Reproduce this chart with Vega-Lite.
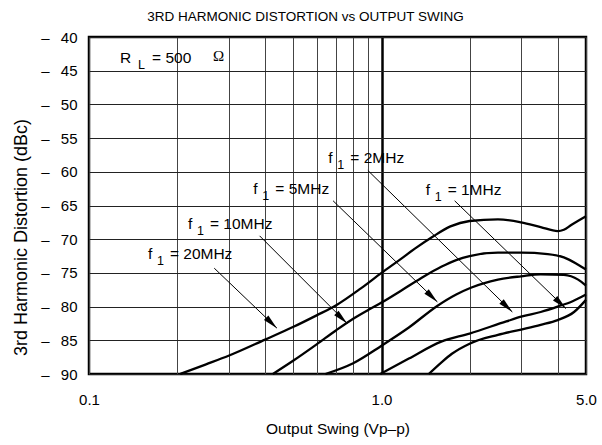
{
  "$schema": "https://vega.github.io/schema/vega-lite/v6.json",
  "width": 497,
  "height": 337,
  "autosize": {"type": "none"},
  "padding": {"left": 89, "top": 37, "right": 16, "bottom": 71},
  "background": "white",
  "config": {
    "font": "Liberation Sans",
    "view": {"stroke": "black", "strokeWidth": 2.5},
    "text": {"font": "Liberation Sans", "color": "black"}
  },
  "title": {
    "text": "3RD HARMONIC DISTORTION vs OUTPUT SWING",
    "fontSize": 13.5,
    "fontWeight": "normal",
    "color": "black",
    "font": "Liberation Sans",
    "anchor": "middle",
    "dx": -32,
    "offset": 7
  },
  "datasets": {
    "curves": [
      {"series": "20MHz", "x": 0.205, "y": -90},
      {"series": "20MHz", "x": 0.25, "y": -88.6},
      {"series": "20MHz", "x": 0.3, "y": -87.3},
      {"series": "20MHz", "x": 0.4, "y": -84.9},
      {"series": "20MHz", "x": 0.5, "y": -83.0},
      {"series": "20MHz", "x": 0.6, "y": -81.3},
      {"series": "20MHz", "x": 0.7, "y": -79.8},
      {"series": "20MHz", "x": 0.85, "y": -77.3},
      {"series": "20MHz", "x": 1.0, "y": -75.0},
      {"series": "20MHz", "x": 1.15, "y": -73.1},
      {"series": "20MHz", "x": 1.3, "y": -71.4},
      {"series": "20MHz", "x": 1.5, "y": -69.6},
      {"series": "20MHz", "x": 1.72, "y": -68.1},
      {"series": "20MHz", "x": 2.0, "y": -67.3},
      {"series": "20MHz", "x": 2.5, "y": -67.05},
      {"series": "20MHz", "x": 3.0, "y": -67.5},
      {"series": "20MHz", "x": 3.5, "y": -68.2},
      {"series": "20MHz", "x": 4.0, "y": -68.8},
      {"series": "20MHz", "x": 4.2, "y": -68.6},
      {"series": "20MHz", "x": 4.45, "y": -67.9},
      {"series": "20MHz", "x": 5.0, "y": -66.6},
      {"series": "10MHz", "x": 0.425, "y": -90},
      {"series": "10MHz", "x": 0.5, "y": -88.0},
      {"series": "10MHz", "x": 0.6, "y": -85.6},
      {"series": "10MHz", "x": 0.7, "y": -83.5},
      {"series": "10MHz", "x": 0.8, "y": -81.8},
      {"series": "10MHz", "x": 0.9, "y": -80.5},
      {"series": "10MHz", "x": 1.0, "y": -79.4},
      {"series": "10MHz", "x": 1.18, "y": -77.5},
      {"series": "10MHz", "x": 1.4, "y": -75.5},
      {"series": "10MHz", "x": 1.6, "y": -74.1},
      {"series": "10MHz", "x": 1.8, "y": -73.1},
      {"series": "10MHz", "x": 2.0, "y": -72.5},
      {"series": "10MHz", "x": 2.5, "y": -72.0},
      {"series": "10MHz", "x": 3.0, "y": -72.0},
      {"series": "10MHz", "x": 3.7, "y": -72.2},
      {"series": "10MHz", "x": 4.2, "y": -72.7},
      {"series": "10MHz", "x": 4.7, "y": -73.8},
      {"series": "10MHz", "x": 5.0, "y": -74.5},
      {"series": "5MHz", "x": 0.643, "y": -90},
      {"series": "5MHz", "x": 0.8, "y": -88.4},
      {"series": "5MHz", "x": 1.0, "y": -85.8},
      {"series": "5MHz", "x": 1.24, "y": -83.1},
      {"series": "5MHz", "x": 1.55, "y": -79.9},
      {"series": "5MHz", "x": 1.8, "y": -78.2},
      {"series": "5MHz", "x": 2.02, "y": -77.2},
      {"series": "5MHz", "x": 2.5, "y": -76.0},
      {"series": "5MHz", "x": 3.0, "y": -75.5},
      {"series": "5MHz", "x": 3.5, "y": -75.2},
      {"series": "5MHz", "x": 4.2, "y": -75.3},
      {"series": "5MHz", "x": 4.7, "y": -76.0},
      {"series": "5MHz", "x": 5.0, "y": -76.9},
      {"series": "2MHz", "x": 0.99, "y": -90},
      {"series": "2MHz", "x": 1.24, "y": -87.7},
      {"series": "2MHz", "x": 1.6, "y": -85.2},
      {"series": "2MHz", "x": 2.0, "y": -84.0},
      {"series": "2MHz", "x": 2.67, "y": -82.2},
      {"series": "2MHz", "x": 3.0, "y": -81.5},
      {"series": "2MHz", "x": 3.5, "y": -80.8},
      {"series": "2MHz", "x": 4.0, "y": -80.0},
      {"series": "2MHz", "x": 4.5, "y": -79.2},
      {"series": "2MHz", "x": 5.0, "y": -78.2},
      {"series": "1MHz", "x": 1.45, "y": -90},
      {"series": "1MHz", "x": 1.6, "y": -88.3},
      {"series": "1MHz", "x": 1.74, "y": -87.0},
      {"series": "1MHz", "x": 2.0, "y": -85.5},
      {"series": "1MHz", "x": 2.5, "y": -84.2},
      {"series": "1MHz", "x": 3.0, "y": -83.4},
      {"series": "1MHz", "x": 3.5, "y": -82.7},
      {"series": "1MHz", "x": 4.0, "y": -82.0},
      {"series": "1MHz", "x": 4.55, "y": -80.8},
      {"series": "1MHz", "x": 5.0, "y": -79.0}
    ],
    "arrows": [
      {"series": "20MHz", "xs": 0.268, "ys": -74.3, "x": 0.439, "y": -83.2},
      {"series": "10MHz", "xs": 0.383, "ys": -69.5, "x": 0.763, "y": -82.5},
      {"series": "5MHz", "xs": 0.683, "ys": -64.3, "x": 1.552, "y": -79.3},
      {"series": "2MHz", "xs": 0.898, "ys": -59.8, "x": 2.8, "y": -80.8},
      {"series": "1MHz", "xs": 1.778, "ys": -64.3, "x": 4.27, "y": -80.3}
    ],
    "labels": [
      {"series": "20MHz", "text": "= 20MHz", "x": 0.159, "y": -73.0},
      {"series": "10MHz", "text": "= 10MHz", "x": 0.218, "y": -68.5},
      {"series": "5MHz", "text": "= 5MHz", "x": 0.3645, "y": -63.3},
      {"series": "2MHz", "text": "= 2MHz", "x": 0.658, "y": -58.65},
      {"series": "1MHz", "text": "= 1MHz", "x": 1.415, "y": -63.4}
    ],
    "rl": [
      {"x": 0.1277, "y": -43.8}
    ]
  },
  "encoding": {
    "x": {
      "field": "x",
      "type": "quantitative",
      "scale": {"type": "log", "domain": [0.1, 5], "nice": false},
      "axis": {
        "values": [0.1, 0.2, 0.3, 0.4, 0.5, 0.6, 0.7, 0.8, 0.9, 1, 2, 3, 4, 5],
        "labelExpr": "datum.value == 0.1 || datum.value == 1 || datum.value == 5 ? format(datum.value, '.1f') : ''",
        "ticks": false,
        "domain": false,
        "grid": true,
        "gridColor": {"condition": {"test": "datum.value == 1", "value": "black"}, "value": "#444444"},
        "gridWidth": {"condition": {"test": "datum.value == 1", "value": 2.5}, "value": 1},
        "labelFontSize": 15,
        "labelFont": "Liberation Sans",
        "labelColor": "black",
        "labelPadding": 18,
        "labelFlush": false,
        "labelOverlap": false,
        "title": "Output Swing (Vp–p)",
        "titleFont": "Liberation Sans",
        "titleFontSize": 15.5,
        "titleFontWeight": "normal",
        "titleColor": "black",
        "titlePadding": 14
      }
    },
    "y": {
      "field": "y",
      "type": "quantitative",
      "scale": {"domain": [-90, -40], "nice": false, "zero": false},
      "axis": {
        "values": [-90, -85, -80, -75, -70, -65, -60, -55, -50, -45, -40],
        "labelExpr": "'–\u00a0\u00a0\u2009' + abs(datum.value)",
        "ticks": false,
        "domain": false,
        "grid": true,
        "gridColor": "#222222",
        "gridWidth": 1,
        "labelFontSize": 15,
        "labelFont": "Liberation Sans",
        "labelColor": "black",
        "labelPadding": 12,
        "labelOverlap": false,
        "title": "3rd Harmonic Distortion (dBc)",
        "titleFont": "Liberation Sans",
        "titleFontSize": 18,
        "titleFontWeight": "normal",
        "titleColor": "black",
        "titlePadding": 10,
        "titleY": 200
      }
    }
  },
  "layer": [
    {
      "data": {"name": "curves"},
      "mark": {"type": "line", "color": "black", "strokeWidth": 2.3, "interpolate": "monotone"},
      "encoding": {
        "detail": {"field": "series"}
      }
    },
    {
      "data": {"name": "arrows"},
      "mark": {"type": "rule", "color": "black", "strokeWidth": 1},
      "encoding": {
        "x2": {"field": "xs"},
        "y2": {"field": "ys"}
      }
    },
    {
      "data": {"name": "arrows"},
      "mark": {"type": "point", "shape": "M0,0L-2,-0.42L-2,0.42Z", "filled": true, "color": "black", "opacity": 1, "size": 225, "angle": 44},
      "encoding": {}
    },
    {
      "data": {"name": "labels"},
      "mark": {"type": "text", "align": "left", "baseline": "alphabetic", "fontSize": 15.5, "font": "Liberation Sans", "color": "black"},
      "encoding": {
        "text": {"value": "f"}
      }
    },
    {
      "data": {"name": "labels"},
      "mark": {"type": "text", "align": "left", "baseline": "alphabetic", "fontSize": 12.5, "font": "Liberation Sans", "color": "black", "dx": 9, "dy": 6},
      "encoding": {
        "text": {"value": "1"}
      }
    },
    {
      "data": {"name": "labels"},
      "mark": {"type": "text", "align": "left", "baseline": "alphabetic", "fontSize": 15.5, "font": "Liberation Sans", "color": "black", "dx": 22},
      "encoding": {
        "text": {"field": "text"}
      }
    },
    {
      "data": {"name": "rl"},
      "mark": {"type": "text", "align": "left", "baseline": "alphabetic", "fontSize": 15.5, "font": "Liberation Sans", "color": "black"},
      "encoding": {
        "text": {"value": "R"}
      }
    },
    {
      "data": {"name": "rl"},
      "mark": {"type": "text", "align": "left", "baseline": "alphabetic", "fontSize": 12.5, "font": "Liberation Sans", "color": "black", "dx": 18, "dy": 6},
      "encoding": {
        "text": {"value": "L"}
      }
    },
    {
      "data": {"name": "rl"},
      "mark": {"type": "text", "align": "left", "baseline": "alphabetic", "fontSize": 15.5, "font": "Liberation Sans", "color": "black", "dx": 32},
      "encoding": {
        "text": {"value": "= 500"}
      }
    },
    {
      "data": {"name": "rl"},
      "mark": {"type": "text", "align": "left", "baseline": "alphabetic", "fontSize": 15, "font": "Liberation Serif", "color": "black", "dx": 93, "dy": -2},
      "encoding": {
        "text": {"value": "Ω"}
      }
    }
  ]
}
